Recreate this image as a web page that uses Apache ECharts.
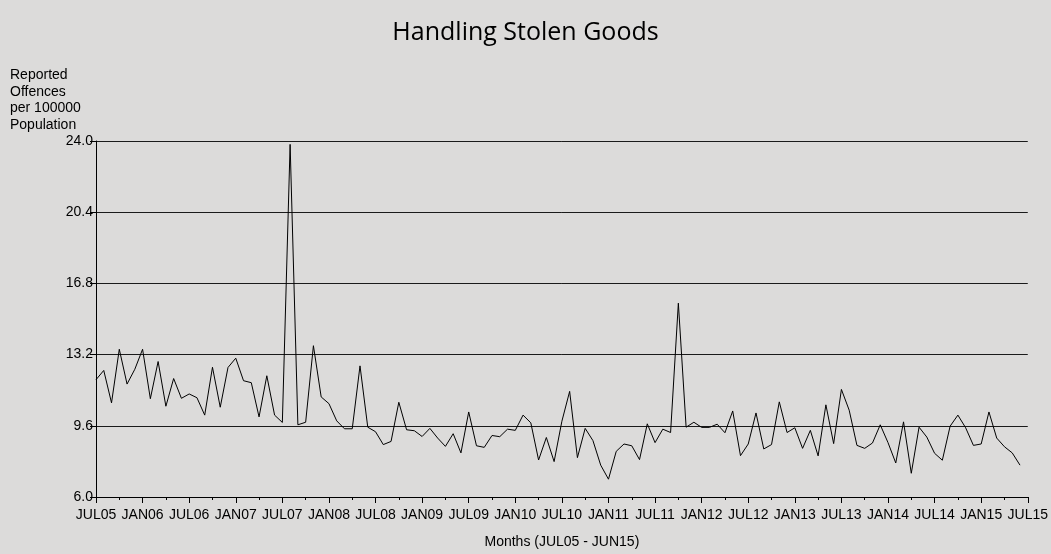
<!DOCTYPE html>
<html>
<head>
<meta charset="utf-8">
<script src="https://cdn.jsdelivr.net/npm/echarts@6/dist/echarts.min.js"></script>
<style>
html,body{margin:0;padding:0;background:#dcdbda;}
#chart{width:1051px;height:554px;}
</style>
</head>
<body>
<div id="chart"></div>
<script>
const titleText = "Handling Stolen Goods";
const yAxisTitle = "Reported\nOffences\nper 100000\nPopulation";
const xAxisTitle = "Months (JUL05 - JUN15)";
const xTickLabels = ["JUL05","JAN06","JUL06","JAN07","JUL07","JAN08","JUL08","JAN09","JUL09","JAN10","JUL10","JAN11","JUL11","JAN12","JUL12","JAN13","JUL13","JAN14","JUL14","JAN15","JUL15"];
const yTicks = [6.0, 9.6, 13.2, 16.8, 20.4, 24.0];
// monthly values JUL05 .. JUN15
const values2005_07 = [11.93,12.40,10.76,13.47,11.71,12.46,13.47,10.97,12.85,10.59,11.99,10.99,
                       11.21,11.02,10.14,12.56,10.54,12.55,13.02,11.88,11.78,10.05,12.13,10.14];
const values2007_09 = [9.77,23.83,9.65,9.78,13.65,11.06,10.72,9.85,9.45,9.45,12.63,9.53,
                       9.30,8.65,8.81,10.79,9.40,9.35,9.06,9.47,8.98,8.56,9.20,8.23];
const values2009_11 = [10.30,8.59,8.51,9.11,9.05,9.43,9.37,10.14,9.75,7.87,9.01,7.79,
                       9.83,11.34,7.99,9.47,8.85,7.61,6.90,8.31,8.68,8.59,7.89,9.70];
const values2011_13 = [8.75,9.43,9.26,15.80,9.53,9.78,9.52,9.52,9.68,9.25,10.35,8.09,
                       8.68,10.25,8.43,8.65,10.81,9.26,9.50,8.46,9.37,8.08,10.66,8.70];
const values2013_15 = [11.44,10.39,8.61,8.46,8.73,9.65,8.75,7.72,9.80,7.20,9.53,9.03,
                       8.21,7.86,9.58,10.14,9.50,8.61,8.68,10.30,8.98,8.54,8.23,7.61];
const values = [].concat(values2005_07, values2007_09, values2009_11, values2011_13, values2013_15);

const seriesData = values.map((v, i) => [i, v]);
const chart = echarts.init(document.getElementById('chart'), null, {renderer: 'canvas'});
const font = 'Liberation Sans, Arial, sans-serif';
chart.setOption({
  backgroundColor: '#dcdbda',
  animation: false,
  title: {
    text: titleText,
    left: 'center',
    top: 15,
    textStyle: {fontFamily: 'Open Sans, Lato, sans-serif', fontSize: 25, fontWeight: 'normal', color: '#000'}
  },
  graphic: [{
    type: 'text',
    left: 10,
    top: 67,
    style: {text: yAxisTitle, font: '14px ' + font, fill: '#000', lineHeight: 16.5}
  }],
  grid: {left: 96, right: 16, top: 141, bottom: 56, containLabel: false},
  xAxis: {
    type: 'value',
    min: 0, max: 120, interval: 6,
    name: xAxisTitle,
    nameLocation: 'middle',
    nameGap: 38,
    nameTextStyle: {fontFamily: font, fontSize: 14, color: '#000'},
    axisLine: {show: true, lineStyle: {color: '#000', width: 1}},
    axisTick: {show: true, length: 6, lineStyle: {color: '#000'}},
    minorTick: {show: true, splitNumber: 2, length: 3, lineStyle: {color: '#000'}},
    splitLine: {show: false},
    axisLabel: {
      fontFamily: font, fontSize: 14, color: '#000', margin: 11,
      showMaxLabel: true, showMinLabel: true,
      formatter: v => xTickLabels[Math.round(v / 6)] || ''
    }
  },
  yAxis: {
    type: 'value',
    min: yTicks[0], max: yTicks[yTicks.length - 1], interval: 3.6,
    axisLine: {show: true, lineStyle: {color: '#000', width: 1}},
    axisTick: {show: true, length: 6, lineStyle: {color: '#000'}},
    splitLine: {show: true, lineStyle: {color: '#1a1a1a', width: 1}},
    axisLabel: {
      fontFamily: font, fontSize: 14, color: '#000', margin: 3,
      formatter: v => Number(v).toFixed(1)
    }
  },
  series: [{
    type: 'line',
    data: seriesData,
    symbol: 'none',
    lineStyle: {color: '#000', width: 1},
    z: 3
  }]
});
</script>
</body>
</html>
